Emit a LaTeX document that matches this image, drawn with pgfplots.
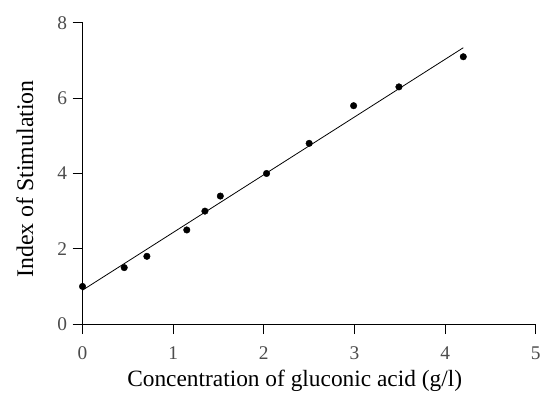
\documentclass[border=0pt]{standalone}
\usepackage{pgfplots}
\pgfplotsset{compat=1.18}
\usepackage{fontspec}
\setmainfont{Liberation Serif}
\begin{document}
\begin{tikzpicture}
\begin{axis}[
  scale only axis,
  width=456pt, height=303pt,
  xmin=0, xmax=5, ymin=0, ymax=8,
  axis x line=bottom, axis y line=left,
  axis line style={-, line width=0.9pt},
  xtick={0,1,2,3,4,5}, ytick={0,2,4,6,8},
  tick align=outside, major tick length=10pt,
  tick style={black, line width=0.9pt},
  /pgf/number format/assume math mode=true,
  ticklabel style={font=\fontsize{19.5}{22}\selectfont, text=black!70},
  xticklabel style={yshift=-9pt},
  yticklabel style={xshift=-2pt},
  xlabel={Concentration of gluconic acid (g/l)},
  ylabel={Index of Stimulation},
  xlabel style={font=\fontsize{23.5}{28}\selectfont, at={([yshift=-63pt]rel axis cs:0.468,0)}, anchor=base},
  ylabel style={font=\fontsize{24}{28}\selectfont, at={([xshift=-58pt,yshift=-5.5pt]rel axis cs:0,0.5)}, anchor=center},
  clip=false,
]
\addplot[black, line width=0.8pt] coordinates {(0,0.9) (4.2,7.34)};
\addplot[only marks, mark=*, mark size=3.3pt, black] coordinates {
(0,1.0) (0.46,1.5) (0.71,1.8) (1.15,2.5) (1.35,3.0) (1.52,3.4)
(2.03,4.0) (2.50,4.8) (2.99,5.8) (3.49,6.3) (4.20,7.1)
};
\path ([xshift=-83pt,yshift=-76pt]rel axis cs:0,0) ([xshift=5pt,yshift=23pt]rel axis cs:1,1);
\end{axis}
\end{tikzpicture}
\end{document}
